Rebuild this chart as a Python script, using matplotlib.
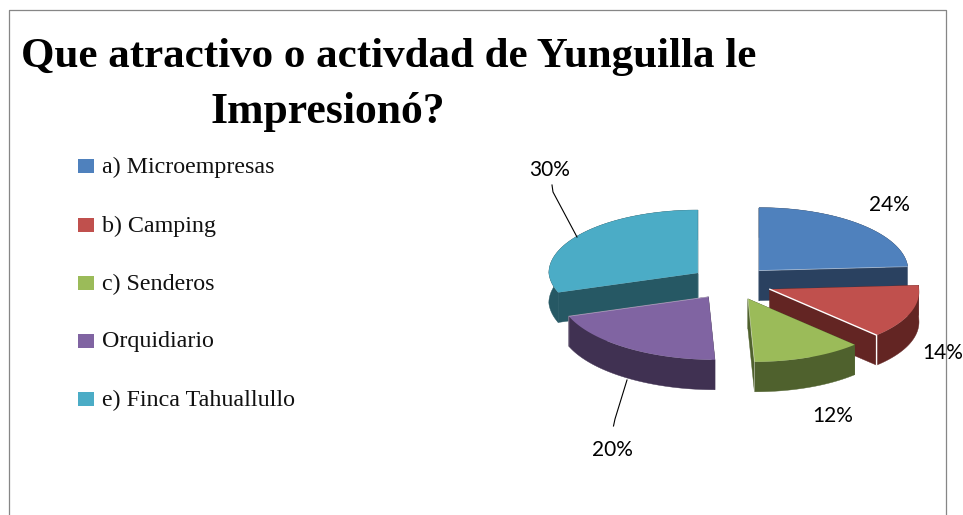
import numpy as np
import matplotlib
matplotlib.use("Agg")
import matplotlib.pyplot as plt

# Data
categories = ["a) Microempresas", "b) Camping", "c) Senderos", "Orquidiario", "e) Finca Tahuallullo"]
values = [24, 14, 12, 20, 30]
top_colors = ["#4F81BD", "#C0504D", "#9BBB59", "#8064A2", "#4BACC6"]
side_colors = ["#2A4160", "#632523", "#4F612D", "#403152", "#265864"]
title_lines = ["Que atractivo o activdad de Yunguilla le", "Impresionó?"]

# Pie geometry, in pixels of the 963x515 picture
cx, cy = 731, 283
rx, ry = 149, 63
explode_x, explode_y = 41, 17
depth = 30
skew = 6.5  # front of the pie leans right a bit

fig = plt.figure(figsize=(9.63, 5.15), dpi=100)
ax = fig.add_axes([0, 0, 1, 1])
ax.set_xlim(0, 963)
ax.set_ylim(515, 0)
ax.axis("off")

# Chart frame, open at the bottom
ax.plot([9, 9, 945.5, 945.5], [515, 9.5, 9.5, 515], color="#868686", lw=0.9)

# Title
ax.text(21, 67, title_lines[0], family="Liberation Serif", weight="bold", fontsize=31, ha="left", va="baseline")
ax.text(210, 123, title_lines[1], family="Liberation Serif", weight="bold", fontsize=31.5, ha="left", va="baseline")

# Legend
legend_y = [166, 225, 283, 341, 399]
for name, color, y in zip(categories, top_colors, legend_y):
    ax.fill([78, 93.5, 93.5, 78], [y - 7, y - 7, y + 7, y + 7], color=color, lw=0)
    ax.text(102, y + 1, name, family="Liberation Serif", fontsize=17.3, ha="left", va="center", color="#111111")


def project(theta, ax0, ay0):
    # theta runs clockwise from 12 o'clock
    xs = ax0 + rx * np.sin(theta) + skew * np.maximum(0, -np.cos(theta))
    ys = ay0 - ry * np.cos(theta)
    return xs, ys


# Wedges, back to front
total = sum(values)
edges = np.cumsum([0] + values) / total * 2 * np.pi
wedges = []
for i in range(len(values)):
    mid = (edges[i] + edges[i + 1]) / 2
    apex_x = cx + explode_x * np.sin(mid) + 0.3 * skew * max(0, -np.cos(mid))
    wedges.append((cy - explode_y * np.cos(mid), i, apex_x))

z = 3
for apex_y, i, apex_x in sorted(wedges):
    theta = np.linspace(edges[i], edges[i + 1], 60)
    arc_x, arc_y = project(theta, apex_x, apex_y)
    xs = np.concatenate([[apex_x], arc_x, [apex_x]])
    ys = np.concatenate([[apex_y], arc_y, [apex_y]])
    # cut faces and outer wall pushed down by depth
    for end in (0, -1):
        ax.fill([apex_x, arc_x[end], arc_x[end], apex_x],
                [apex_y, arc_y[end], arc_y[end] + depth, apex_y + depth],
                color=side_colors[i], lw=0.3, zorder=z)
    ax.fill(np.concatenate([arc_x, arc_x[::-1]]), np.concatenate([arc_y, arc_y[::-1] + depth]),
            color=side_colors[i], lw=0.3, zorder=z)
    ax.fill(xs, ys, color=top_colors[i], lw=0, zorder=z + 1)
    # thin light edge at the end of the slice
    ax.plot([apex_x, arc_x[-1], arc_x[-1]], [apex_y, arc_y[-1], arc_y[-1] + depth],
            color="white", lw=1.0 if i == 1 else 0.6, alpha=1.0 if i == 1 else 0.45, zorder=z + 2)
    z += 3

# Leader lines
ax.plot([552, 553, 577], [185, 192, 237], color="black", lw=0.8, zorder=z)
ax.plot([627, 615, 613.5], [380, 419, 426], color="black", lw=0.8, zorder=z)

# Data labels
label_x = [889, 943, 833, 612, 550]
label_y = [205, 353, 416.5, 450, 170]
for v, x, y in zip(values, label_x, label_y):
    ax.text(x, y, f"{v}%", family="Lato", fontsize=15, ha="center", va="center", color="black", zorder=z + 1)

fig.savefig("out.png", dpi=100)
